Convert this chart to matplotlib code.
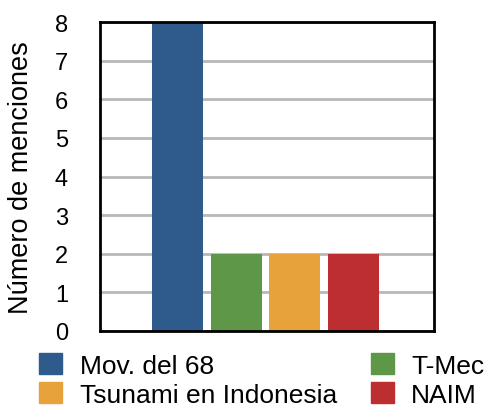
import matplotlib.pyplot as plt
from matplotlib.patches import Patch

plt.rcParams['font.family'] = ['Liberation Sans', 'DejaVu Sans']

temas = ['Mov. del 68', 'T-Mec', 'Tsunami en Indonesia', 'NAIM']
menciones = [8, 2, 2, 2]
colores = ['#2e5a8c', '#5e9748', '#e8a23c', '#bd2e31']

fig = plt.figure(figsize=(4.91, 4.06), dpi=100)
ax = fig.add_axes([100/491, 1-332/406, 334/491, 309/406])

x = range(len(temas))
ax.bar(x, menciones, width=0.87, color=colores, zorder=3)
ax.set_xlim(-1.32, 4.37)
ax.set_ylim(0, 8)
ax.set_yticks(range(0, 9))
ax.set_xticks([])
ax.yaxis.grid(True, color='#b8b8b8', linewidth=2, zorder=0)
ax.tick_params(axis='y', length=0, labelsize=17, pad=23)
for s in ax.spines.values():
    s.set_linewidth(2)
    s.set_color('black')
    s.set_zorder(4)
ax.set_ylabel('Número de menciones', fontsize=19.5, labelpad=15)

orden = [0, 2, 1, 3]
handles = [Patch(color=colores[i], label=temas[i]) for i in orden]
fig.legend(handles=handles, ncol=2, loc='lower left', bbox_to_anchor=(21/491, -20/406),
           frameon=False, fontsize=19, handlelength=0.87, handleheight=0.87,
           handletextpad=0.65, columnspacing=1.3, labelspacing=0.15, borderpad=0.2)

fig.savefig('out.png', dpi=100)
